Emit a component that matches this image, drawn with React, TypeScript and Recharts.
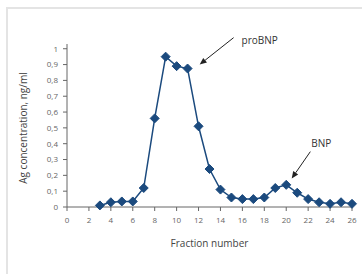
import { Line, LineChart, ReferenceLine, XAxis, YAxis } from "recharts";

const fractions = [3, 4, 5, 6, 7, 8, 9, 10, 11, 12, 13, 14, 15, 16, 17, 18, 19, 20, 21, 22, 23, 24, 25, 26];
const concentration = [
  0.01, 0.03, 0.035, 0.035, 0.12, 0.56, 0.95, 0.89, 0.875, 0.51, 0.24, 0.11,
  0.06, 0.05, 0.05, 0.06, 0.12, 0.14, 0.09, 0.05, 0.03, 0.02, 0.03, 0.02,
];
const xTicks = [0, 2, 4, 6, 8, 10, 12, 14, 16, 18, 20, 22, 24, 26];
const yTicks = [0, 0.1, 0.2, 0.3, 0.4, 0.5, 0.6, 0.7, 0.8, 0.9, 1];

// arrow annotations: [fromX, fromY, toX, toY]
const annotations = [
  { text: "proBNP", from: [15.2, 1.07], to: [12.1, 0.9] },
  { text: "BNP", from: [22.2, 0.35], to: [20.5, 0.18] },
];

const data = fractions.map((f, i) => ({ fraction: f, value: concentration[i] }));

const LINE = "#1b4a7e";
const AXIS = "#666";
const FONT = "'Open Sans', sans-serif";

const Diamond = (props: any) => {
  const { cx, cy } = props;
  if (cx == null || cy == null) return null;
  const r = 4.5;
  return (
    <polygon
      points={`${cx},${cy - r} ${cx + r},${cy} ${cx},${cy + r} ${cx - r},${cy}`}
      fill={LINE}
      stroke={LINE}
    />
  );
};

const arrowShape = (label: string, isBig: boolean) => (props: any) => {
  const { x1, y1, x2, y2 } = props;
  if (x1 == null) return null;
  const ang = Math.atan2(y2 - y1, x2 - x1);
  const len = 7;
  const w = 3;
  const bx = x2 - len * Math.cos(ang);
  const by = y2 - len * Math.sin(ang);
  const px = -Math.sin(ang) * w;
  const py = Math.cos(ang) * w;
  return (
    <g>
      <line x1={x1} y1={y1} x2={bx} y2={by} stroke="#222" strokeWidth={1} />
      <polygon
        points={`${x2},${y2} ${bx + px},${by + py} ${bx - px},${by - py}`}
        fill="#222"
      />
      <text
        x={x1 + (isBig ? 8 : 1)}
        y={y1 + (isBig ? 6 : -5)}
        fontSize={10}
        fill="#333"
        fontFamily={FONT}
      >
        {label}
      </text>
    </g>
  );
};

export default function App() {
  return (
    <div style={{ position: "absolute", left: 0, top: 0, width: 362, height: 274, background: "#fff" }}>
      <div
        style={{
          position: "absolute",
          left: 6,
          top: 7,
          right: 0,
          bottom: 0,
          borderTop: "2px solid #e4e4e4",
          borderLeft: "2px solid #e4e4e4",
        }}
      />
      <LineChart
        width={362}
        height={274}
        data={data}
        margin={{ top: 44, right: 10, bottom: 37, left: 37 }}
        style={{ position: "absolute", left: 0, top: 0 }}
      >
        <XAxis
          dataKey="fraction"
          type="number"
          domain={[0, 26]}
          ticks={xTicks}
          height={30}
          stroke={AXIS}
          tickSize={4}
          tickMargin={6}
          tick={{ fontSize: 8, fill: "#666", fontFamily: FONT }}
          label={{
            value: "Fraction number",
            position: "bottom",
            offset: 3,
            fontSize: 10,
            fill: "#444",
            fontFamily: FONT,
          }}
        />
        <YAxis
          type="number"
          domain={[0, 1.03]}
          ticks={yTicks}
          width={30}
          stroke={AXIS}
          tickSize={4}
          tickMargin={5}
          tickFormatter={(v: number) => String(v).replace(".", ",")}
          tick={{ fontSize: 8, fill: "#666", fontFamily: FONT }}
          label={{
            content: () => (
              <text
                x={23}
                y={128}
                transform="rotate(-90 23 128)"
                textAnchor="middle"
                dominantBaseline="central"
                fontSize={10}
                fill="#444"
                fontFamily={FONT}
              >
                Ag concentration, ng/ml
              </text>
            ),
          }}
        />
        {annotations.map((a, i) => (
          <ReferenceLine
            key={a.text}
            segment={[
              { x: a.from[0], y: a.from[1] },
              { x: a.to[0], y: a.to[1] },
            ]}
            ifOverflow="visible"
            shape={arrowShape(a.text, i === 0)}
          />
        ))}
        <Line
          type="linear"
          dataKey="value"
          stroke={LINE}
          strokeWidth={1.5}
          dot={<Diamond />}
          activeDot={false}
          isAnimationActive={false}
        />
      </LineChart>
    </div>
  );
}
